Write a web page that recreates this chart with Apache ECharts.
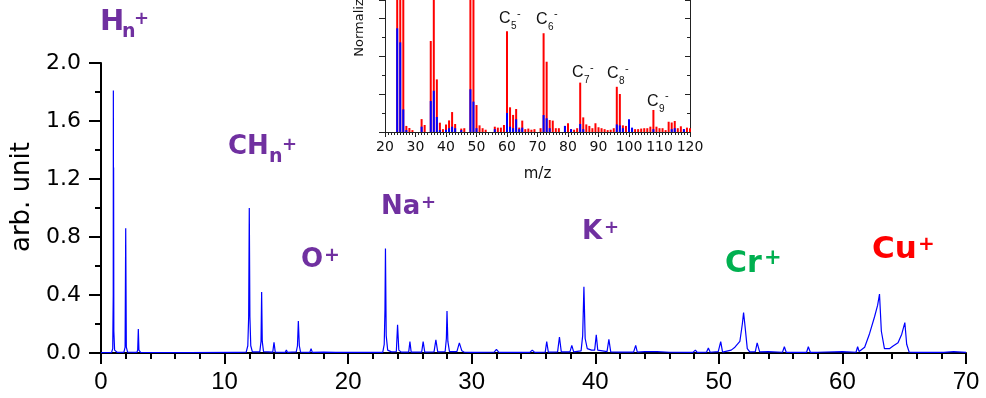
<!DOCTYPE html>
<html>
<head>
<meta charset="utf-8">
<script src="https://cdn.jsdelivr.net/npm/echarts@6/dist/echarts.min.js"></script>
<style>
html,body{margin:0;padding:0;background:#fff;}
#chart{width:986px;height:398px;}
</style>
</head>
<body>
<div id="chart"></div>
<script>
// main spectrum (m/z, arb. unit)
var spectrum = [
    [0.0,0.003],[0.85,0.003],[0.95,0.03],[0.99,0.4],[1.0,1.81],[1.01,0.5],[1.02,1.28],[1.04,0.15],[1.1,0.02],[1.3,0.005],
    [1.85,0.005],[1.95,0.04],[2.0,0.86],[2.05,0.04],[2.15,0.006],
    [2.9,0.004],[2.97,0.02],[3.02,0.165],[3.07,0.02],[3.2,0.004],
    [6.9,0.003],[7.0,0.014],[7.1,0.003],[10.9,0.004],[11.0,0.01],[11.1,0.004],
    [11.75,0.006],[11.88,0.05],[11.95,0.25],[12.0,1.0],[12.05,0.25],[12.12,0.05],[12.25,0.008],
    [12.85,0.008],[12.95,0.08],[13.0,0.42],[13.05,0.08],[13.15,0.01],
    [13.9,0.006],[14.0,0.074],[14.1,0.006],[14.9,0.004],[15.0,0.02],[15.1,0.004],
    [15.8,0.008],[15.9,0.05],[15.97,0.22],[16.05,0.05],[16.15,0.006],
    [16.9,0.004],[17.0,0.03],[17.1,0.004],[18.0,0.006],[18.1,0.003],[19.0,0.004],
    [22.8,0.005],[22.92,0.06],[22.98,0.3],[23.02,0.72],[23.08,0.12],[23.2,0.02],[23.5,0.008],
    [23.9,0.01],[24.0,0.195],[24.1,0.02],[24.3,0.006],
    [24.9,0.006],[25.0,0.078],[25.1,0.006],[25.95,0.006],[26.07,0.078],[26.2,0.006],
    [26.95,0.008],[27.1,0.09],[27.25,0.008],
    [27.85,0.01],[27.95,0.1],[28.0,0.29],[28.07,0.08],[28.2,0.01],
    [28.8,0.01],[29.0,0.07],[29.2,0.015],[29.4,0.005],[29.9,0.004],[30.0,0.016],[30.15,0.004],
    [31.8,0.005],[32.0,0.025],[32.2,0.004],[34.7,0.004],[34.9,0.02],[35.1,0.004],
    [35.95,0.006],[36.07,0.078],[36.2,0.006],[36.95,0.008],[37.1,0.11],[37.25,0.008],
    [37.95,0.008],[38.1,0.053],[38.25,0.008],
    [38.85,0.015],[38.98,0.12],[39.08,0.457],[39.18,0.1],[39.35,0.03],[39.7,0.02],
    [39.95,0.02],[40.08,0.126],[40.2,0.02],[40.95,0.01],[41.1,0.094],[41.25,0.008],
    [41.9,0.006],[42.0,0.01],[43.1,0.006],[43.27,0.053],[43.4,0.006],
    [44.0,0.01],[45.0,0.01],[46.0,0.005],[47.9,0.004],[48.1,0.02],[48.25,0.004],
    [49.0,0.005],[49.15,0.034],[49.3,0.005],[49.95,0.01],[50.15,0.078],[50.3,0.006],
    [51.0,0.02],[51.3,0.04],[51.7,0.08],[51.9,0.2],[52.0,0.278],[52.1,0.2],[52.3,0.03],[52.5,0.008],
    [52.95,0.01],[53.1,0.07],[53.3,0.008],[54.0,0.01],
    [55.15,0.005],[55.3,0.043],[55.45,0.005],[56.0,0.005],[57.1,0.005],[57.24,0.043],[57.4,0.005],
    [58.0,0.005],[60.0,0.01],[61.1,0.005],[61.23,0.043],[61.35,0.01],
    [61.8,0.04],[62.2,0.135],[62.6,0.25],[62.85,0.33],[63.0,0.407],[63.15,0.15],[63.4,0.03],
    [63.8,0.03],[64.1,0.048],[64.5,0.07],[64.8,0.13],[65.05,0.21],[65.2,0.06],[65.4,0.006],
    [66.0,0.004],[68.0,0.004],[68.1,0.015],[68.2,0.004],[69.0,0.01],[70.0,0.004]
];

// inset: negative ion stick spectra (m/z, normalized)
var insetRed = [
    [24,1.2],[25,1.1],[26,1.0],[27,0.032],[28,0.021],[29,0.01],[32,0.068],[33,0.037],
    [35,0.479],[36,0.9],[37,0.277],[38,0.049],[39,0.015],[40,0.04],[41,0.061],[42,0.105],[43,0.042],
    [45,0.018],[46,0.02],[48,1.0],[49,0.95],[50,0.142],[51,0.035],[52,0.02],[53,0.012],
    [56,0.028],[57,0.023],[58,0.023],[59,0.037],[60,0.53],[61,0.13],[62,0.09],[63,0.121],[64,0.023],
    [65,0.06],[66,0.015],[67,0.018],[68,0.012],[69,0.015],[71,0.02],[72,0.52],[73,0.37],[74,0.063],
    [75,0.06],[76,0.02],[77,0.02],[79,0.032],[80,0.046],[81,0.015],[82,0.012],[83,0.02],[84,0.26],
    [85,0.077],[86,0.04],[87,0.032],[88,0.02],[89,0.046],[90,0.025],[91,0.02],[92,0.015],[93,0.01],
    [94,0.012],[95,0.02],[96,0.238],[97,0.2],[98,0.035],[99,0.032],[100,0.02],[101,0.018],
    [102,0.015],[103,0.015],[104,0.018],[105,0.02],[106,0.02],[107,0.028],[108,0.116],[109,0.028],
    [110,0.02],[111,0.02],[112,0.01],[113,0.054],[114,0.05],[115,0.058],[116,0.02],[117,0.03],
    [118,0.015],[119,0.023],[120,0.02]
];
var insetBlue = [
    [24,0.546],[25,0.472],[26,0.119],[27,0.01],[32,0.028],[35,0.163],[36,0.217],[37,0.079],[38,0.01],
    [40,0.012],[41,0.02],[42,0.028],[43,0.02],[45,0.01],[48,0.225],[49,0.16],[50,0.02],[56,0.015],
    [60,0.1],[61,0.028],[62,0.02],[63,0.067],[64,0.015],[65,0.023],[72,0.089],[73,0.072],[74,0.02],
    [79,0.032],[81,0.015],[84,0.042],[85,0.015],[96,0.04],[97,0.035],[98,0.02],[100,0.067],
    [101,0.023],[108,0.015],[114,0.015],[115,0.02],[118,0.015]
];

var ionNames = ['H', 'CH', 'O', 'Na', 'K', 'Cr', 'Cu'];
var clusterNames = ['C5', 'C6', 'C7', 'C8', 'C9'];

var purple = '#7030A0', green = '#00B050', red = '#FF0000';

function txt(s, x, y, size, color, font) {
    return {
        type: 'text', x: x, y: y, z: 100,
        style: {
            text: s, fill: color,
            font: font + ' ' + size + 'px ' + (font.indexOf('bold') >= 0 ? '"DejaVu Sans"' : '"Liberation Sans"'),
            align: 'left', verticalAlign: 'middle'
        }
    };
}
function ion(name, sub, x, y, size, subX, subY, plusX, plusY, plusSize, color) {
    var out = [txt(name, x, y, size, color, 'bold')];
    if (sub) out.push(txt(sub, subX, subY, 19, color, 'bold'));
    out.push(txt('+', plusX, plusY, plusSize, color, 'bold'));
    return out;
}
function cluster(name, x, y) {
    return [
        txt('C', x, y, 16, '#111', 'normal'),
        txt(name.substring(1), x + 12, y + 7.5, 10, '#111', 'normal'),
        txt('-', x + 18, y - 5.5, 11, '#111', 'normal')
    ];
}

var labels = [];
labels = labels.concat(ion(ionNames[0], 'n', 100, 22.5, 29, 122, 32, 134, 19, 18, purple));
labels = labels.concat(ion(ionNames[1], 'n', 228, 147.5, 26, 269, 157, 282, 145, 18, purple));
labels = labels.concat(ion(ionNames[2], null, 301, 260, 26, 0, 0, 324, 256, 19, purple));
labels = labels.concat(ion(ionNames[3], null, 381, 207.5, 26, 0, 0, 421, 203, 18, purple));
labels = labels.concat(ion(ionNames[4], null, 582, 232.5, 26, 0, 0, 604, 228, 18, purple));
labels = labels.concat(ion(ionNames[5], null, 725, 264, 30, 0, 0, 764, 259, 21, green));
labels = labels.concat(ion(ionNames[6], null, 872, 249.5, 31, 0, 0, 918, 245, 20, red));
var clusterPos = [[499, 19], [536, 19.5], [572, 73], [607, 74], [647, 101.5]];
for (var i = 0; i < clusterNames.length; i++) {
    labels = labels.concat(cluster(clusterNames[i], clusterPos[i][0], clusterPos[i][1]));
}

var chart = echarts.init(document.getElementById('chart'));
var axisColor = '#000';
var option = {
    animation: false,
    backgroundColor: '#fff',
    grid: [
        {left: 101, right: 20, top: 63, bottom: 45, outerBoundsMode: 'none'},
        {left: 385, right: 296, top: 0, bottom: 266, outerBoundsMode: 'none'}
    ],
    xAxis: [
        {
            gridIndex: 0, type: 'value', min: 0, max: 70, interval: 10,
            axisLine: {lineStyle: {color: axisColor, width: 2}},
            axisTick: {length: 11, lineStyle: {width: 2}},
            minorTick: {show: true, splitNumber: 5, length: 6, lineStyle: {color: axisColor, width: 2}},
            axisLabel: {color: '#000', fontSize: 24, fontFamily: '"Liberation Sans"', margin: 17},
            splitLine: {show: false}
        },
        {
            gridIndex: 1, type: 'value', min: 20, max: 120, interval: 10,
            name: 'm/z', nameLocation: 'middle', nameGap: 35,
            nameTextStyle: {color: '#111', fontSize: 15, fontFamily: '"DejaVu Sans"'},
            axisLine: {lineStyle: {color: '#222', width: 1}},
            axisTick: {length: 5, lineStyle: {color: '#222'}},
            minorTick: {show: true, splitNumber: 10, length: 3, lineStyle: {color: '#222'}},
            axisLabel: {color: '#111', fontSize: 14, fontFamily: '"DejaVu Sans"', margin: 8},
            splitLine: {show: false}
        }
    ],
    yAxis: [
        {
            gridIndex: 0, type: 'value', min: 0, max: 2, interval: 0.4,
            name: 'arb. unit', nameLocation: 'middle', nameGap: 64,
            nameTextStyle: {color: '#000', fontSize: 26, fontFamily: '"DejaVu Sans"', padding: [0, 0, 0, 22]},
            axisLine: {show: true, lineStyle: {color: axisColor, width: 2}},
            axisTick: {show: true, length: 12, lineStyle: {width: 2}},
            minorTick: {show: true, splitNumber: 2, length: 6, lineStyle: {color: axisColor, width: 2}},
            axisLabel: {color: '#000', fontSize: 22, fontFamily: '"DejaVu Sans"', margin: 20,
                formatter: function (v) { return v.toFixed(1); }},
            splitLine: {show: false}
        },
        {
            // the inset is cut at the top of the figure: only 0..0.69 is visible
            gridIndex: 1, type: 'value', min: 0, max: 0.695, interval: 0.2,
            name: 'Normalized Intensity', nameLocation: 'middle', nameGap: 19,
            nameTextStyle: {color: '#111', fontSize: 13, fontFamily: '"DejaVu Sans"', padding: [0, 0, 0, 153]},
            axisLine: {show: true, lineStyle: {color: '#222', width: 1}},
            axisTick: {show: true, length: 6, lineStyle: {color: '#222'}},
            minorTick: {show: true, splitNumber: 2, length: 3, lineStyle: {color: '#222'}},
            axisLabel: {show: false},
            splitLine: {show: false}
        },
        {
            gridIndex: 1, type: 'value', position: 'right', min: 0, max: 0.695, interval: 0.2,
            axisLine: {show: true, lineStyle: {color: '#222', width: 1}},
            axisTick: {show: true, inside: true, length: 5, lineStyle: {color: '#222'}},
            minorTick: {show: true, splitNumber: 2, length: 3, lineStyle: {color: '#222'}},
            axisLabel: {show: false},
            splitLine: {show: false}
        }
    ],
    series: [
        {
            type: 'line', xAxisIndex: 0, yAxisIndex: 0,
            data: spectrum, showSymbol: false, symbol: 'none',
            lineStyle: {color: '#0000ff', width: 1.2}
        },
        {
            type: 'bar', xAxisIndex: 1, yAxisIndex: 1,
            data: insetRed, barWidth: 2, barGap: '-100%', clip: true,
            itemStyle: {color: '#ff0000'}, z: 5
        },
        {
            type: 'bar', xAxisIndex: 1, yAxisIndex: 1,
            data: insetBlue, barWidth: 2, barGap: '-100%', clip: true,
            itemStyle: {color: '#0000ff'}, z: 6
        }
    ],
    graphic: labels
};
chart.setOption(option);
</script>
</body>
</html>
